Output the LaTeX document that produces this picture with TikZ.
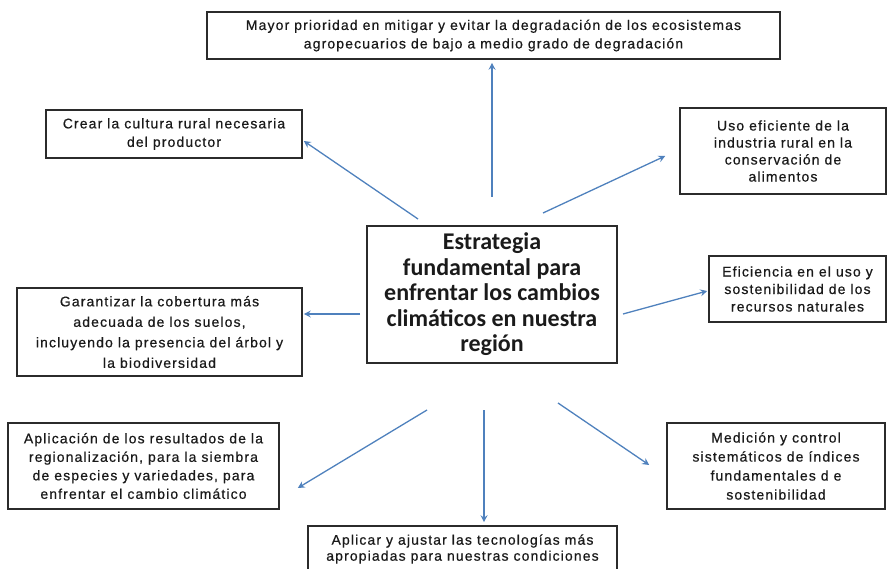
\documentclass[tikz,border=0pt]{standalone}
\usepackage{fontspec}
\setmainfont{Liberation Sans}[LetterSpace=8,FakeBold=0.6]
\newfontfamily\centrofont{Carlito}
\usetikzlibrary{arrows.meta,calc}
\definecolor{arrowblue}{HTML}{4F81BD}
\definecolor{boxline}{HTML}{2B2B2B}
\definecolor{txt}{HTML}{1A1A1A}
\tikzset{
  box/.style={draw=boxline, line width=1.6pt, inner sep=0pt, align=center, text=txt,
    font=\fontsize{14}{18.5}\selectfont},
  centrebox/.style={box, font=\centrofont\bfseries\fontsize{24}{25.5}\selectfont},
  arr/.style={draw=arrowblue, line width=1.3pt, -{Stealth[length=7pt,width=7pt,inset=2.5pt]}}
}
\begin{document}
\begin{tikzpicture}[x=1pt,y=-1pt]
\useasboundingbox (0,0) rectangle (888,569);
\node[box, minimum width=573pt, minimum height=47pt] (top) at (493.5,35.5)
  {Mayor prioridad en mitigar y evitar la degradación de los ecosistemas\\agropecuarios de bajo a medio grado de degradación};
\node[box, minimum width=256pt, minimum height=48pt] (crear) at (174,134)
  {Crear la cultura rural necesaria\\del productor};
\node[box, minimum width=206pt, minimum height=86pt, font=\fontsize{14}{17}\selectfont] (uso) at (783,151)
  {Uso eficiente de la\\industria rural en la\\conservación de\\alimentos};
\node[centrebox, minimum width=250pt, minimum height=137pt] (centro) at (492,294.5)
  {Estrategia\\fundamental para\\enfrentar los cambios\\climáticos en nuestra\\región};
\node[box, minimum width=285pt, minimum height=88pt, font=\fontsize{14}{20.5}\selectfont] (gar) at (159.5,332)
  {Garantizar la cobertura más\\adecuada de los suelos,\\incluyendo la presencia del árbol y\\la biodiversidad};
\node[box, minimum width=177pt, minimum height=66pt, font=\fontsize{14}{17.5}\selectfont] (efi) at (797.5,289)
  {Eficiencia en el uso y\\sostenibilidad de los\\recursos naturales};
\node[box, minimum width=271pt, minimum height=86pt] (apl) at (143.5,466)
  {Aplicación de los resultados de la\\regionalización, para la siembra\\de especies y variedades, para\\enfrentar el cambio climático};
\node[box, minimum width=218pt, minimum height=86pt, font=\fontsize{14}{19}\selectfont] (med) at (776,466)
  {Medición y control\\sistemáticos de índices\\fundamentales d e\\sostenibilidad};
\node[box, minimum width=309pt, minimum height=46pt, font=\fontsize{14}{16}\selectfont] (apr) at (462.5,549)
  {Aplicar y ajustar las tecnologías más\\apropiadas para nuestras condiciones};
\coordinate (s1) at (492,197);
\coordinate (s2) at (418,219);
\coordinate (s3) at (543,213);
\coordinate (s4) at (360,314);
\coordinate (s5) at (623,314);
\coordinate (s6) at (427,410);
\coordinate (s7) at (484,410);
\coordinate (s8) at (558,403);
\draw[arr, shorten >=3pt] (s1) -- (s1 |- top.south);
\draw[arr] (s2) -- ($(crear.east)+(1,7)$);
\draw[arr] (s3) -- ($(uso.west)+(-14,5)$);
\draw[arr] (s4) -- ($(gar.east)+(1,-18)$);
\draw[arr] (s5) -- ($(efi.west)+(-1,2)$);
\draw[arr] (s6) -- ($(apl.east)+(18,22)$);
\draw[arr, shorten >=3pt] (s7) -- (s7 |- apr.north);
\draw[arr] (s8) -- ($(med.west)+(-17,-1)$);
\end{tikzpicture}
\end{document}
